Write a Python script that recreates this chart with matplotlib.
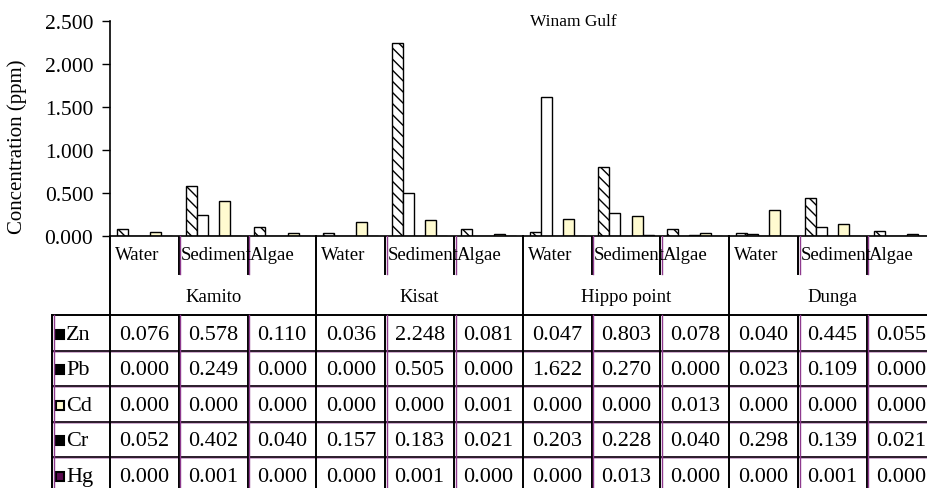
import matplotlib.pyplot as plt
from matplotlib.patches import Rectangle
from matplotlib.ticker import FormatStrFormatter

plt.rcParams['font.family'] = ['Liberation Serif', 'DejaVu Serif']

#### data ####
sites = ['Kamito', 'Kisat', 'Hippo point', 'Dunga']
media = ['Water', 'Sediment', 'Algae']
metals = ['Zn', 'Pb', 'Cd', 'Cr', 'Hg']

# values per column: Kamito W/S/A, Kisat W/S/A, Hippo W/S/A, Dunga W/S/A
zn = [0.076, 0.578, 0.110, 0.036, 2.248, 0.081, 0.047, 0.803, 0.078, 0.040, 0.445, 0.055]
pb = [0.000, 0.249, 0.000, 0.000, 0.505, 0.000, 1.622, 0.270, 0.000, 0.023, 0.109, 0.000]
cd = [0.000, 0.000, 0.000, 0.000, 0.000, 0.001, 0.000, 0.000, 0.013, 0.000, 0.000, 0.000]
cr = [0.052, 0.402, 0.040, 0.157, 0.183, 0.021, 0.203, 0.228, 0.040, 0.298, 0.139, 0.021]
hg = [0.000, 0.001, 0.000, 0.000, 0.001, 0.000, 0.000, 0.013, 0.000, 0.000, 0.001, 0.000]
values = [zn, pb, cd, cr, hg]

yticks = [0.0, 0.5, 1.0, 1.5, 2.0, 2.5]

# bar styles (face, hatch)
bar_style = [('white', '\\\\\\'), ('white', ''), ('#fffbd0', ''), ('#fffbd0', ''), ('#5a0a4f', '')]

purple = '#8e3a8e'
dark = '#2a1a2a'

#### figure ####
W, H = 927, 489
fig = plt.figure(figsize=(W / 100, H / 100), dpi=100)

colw = 68.8
ncol = len(zn)
ax = fig.add_axes([110 / W, (H - 237) / H, ncol * colw / W, 215 / H])

bw = 0.16
for k, vals in enumerate(values):
    face, hatch = bar_style[k]
    xs = [i + 0.1 + bw * (k + 0.5) for i in range(ncol)]
    ax.bar(xs, vals, width=bw, facecolor=face, edgecolor='black',
           linewidth=1.0, hatch=hatch)

ax.set_xlim(0, ncol)
ax.set_ylim(0, 2.5)
ax.set_yticks(yticks)
ax.yaxis.set_major_formatter(FormatStrFormatter('%.3f'))
ax.tick_params(axis='y', direction='out', length=6, width=1, labelsize=15.5, pad=6)
ax.set_xticks([])
ax.spines['top'].set_visible(False)
ax.spines['right'].set_visible(False)
ax.spines['left'].set_linewidth(1.2)
ax.spines['bottom'].set_linewidth(1.2)

fig.text(573 / W, 1 - 22 / H, 'Winam Gulf', ha='center', va='center', fontsize=12.5)
fig.text(17 / W, 1 - 147 / H, 'Concentration (ppm)', ha='center', va='center',
         rotation=90, fontsize=15)

#### table below the bars ####
tab_h = 256
ta = fig.add_axes([110 / W, -4 / H, ncol * colw / W, tab_h / H])
ta.set_xlim(0, ncol)
ta.set_ylim(tab_h, 0)
ta.axis('off')

head_split = 38     # end of the short separators between media
data_top = 79       # top of the first data row
row_h = 35.5
lab_left = (52 - 110) / colw
off = 1.6 / colw    # offset of the purple twin lines

# horizontal lines
ta.plot([lab_left, ncol], [data_top, data_top], color='black', lw=1.4, clip_on=False)
for r in range(1, len(metals) + 1):
    y = data_top + r * row_h
    ta.plot([lab_left, ncol], [y, y], color=dark, lw=1.4, clip_on=False)
    ta.plot([lab_left, ncol], [y + 1.4, y + 1.4], color=purple, lw=0.6, alpha=0.5, clip_on=False)

# vertical lines
ta.plot([0, 0], [0, tab_h], color='black', lw=1.4, clip_on=False)
ta.plot([lab_left, lab_left], [data_top, tab_h], color='black', lw=1.4, clip_on=False)
ta.plot([lab_left + off, lab_left + off], [data_top, tab_h], color=purple, lw=1.0, clip_on=False)
for i in range(1, ncol):
    if i % 3 == 0:
        ta.plot([i, i], [0, tab_h], color='black', lw=1.4, clip_on=False)
    else:
        ta.plot([i, i], [0, head_split], color='black', lw=1.4)
        ta.plot([i + off, i + off], [0, head_split], color=purple, lw=1.0)
        ta.plot([i, i], [data_top, tab_h], color='black', lw=1.4)
        ta.plot([i + off, i + off], [data_top, tab_h], color=purple, lw=1.0)

# header texts
for i in range(ncol):
    cell = Rectangle((i, 0), 1 - 0.03, head_split, transform=ta.transData)
    t = ta.text(i + 0.07 if i % 3 == 0 else i + 0.035, 19, media[i % 3],
                ha='left', va='center', fontsize=13.5)
    t.set_clip_path(cell)
for s, name in enumerate(sites):
    ta.text(3 * s + 1.5, 61, name, ha='center', va='center', fontsize=13.5)

# row labels with keys
key_style = [('black', '\\\\\\\\'), ('black', ''), ('#fffbd0', ''), ('black', '-'), ('#5a0a4f', '')]
for r, m in enumerate(metals):
    yc = data_top + row_h * (r + 0.5) + 1.5
    face, hatch = key_style[r]
    ta.add_patch(Rectangle((lab_left + 4 / colw, yc - 4.5), 8 / colw, 9,
                           facecolor=face, edgecolor='black', lw=1.5,
                           hatch=hatch, clip_on=False))
    ta.text(lab_left + 14 / colw, yc, m, ha='left', va='center', fontsize=16,
            clip_on=False)
    for i in range(ncol):
        ta.text(i + 0.5, yc, '%.3f' % values[r][i], ha='center', va='center',
                fontsize=16)

fig.savefig('out.png', dpi=100)
